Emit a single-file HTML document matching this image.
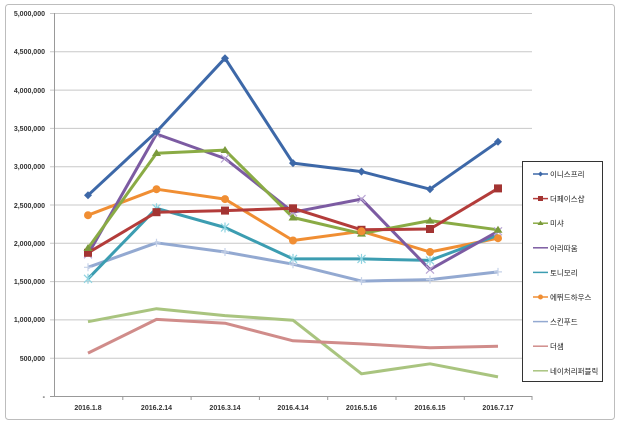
<!DOCTYPE html>
<html><head><meta charset="utf-8"><style>body{margin:0;background:#fff}svg{display:block}</style></head><body>
<svg width="620" height="428" viewBox="0 0 620 428" xmlns="http://www.w3.org/2000/svg" font-family="'Liberation Sans','Noto Sans CJK KR',sans-serif">
<rect x="5.5" y="4.5" width="609" height="415" rx="3" fill="#fff" stroke="#bdbdbd"/>
<g stroke="#c8c8c8" stroke-width="1">
<line x1="50" y1="13.5" x2="532" y2="13.5"/><line x1="50" y1="51.8" x2="532" y2="51.8"/><line x1="50" y1="90.1" x2="532" y2="90.1"/><line x1="50" y1="128.4" x2="532" y2="128.4"/><line x1="50" y1="166.7" x2="532" y2="166.7"/><line x1="50" y1="205" x2="532" y2="205"/><line x1="50" y1="243.3" x2="532" y2="243.3"/><line x1="50" y1="281.6" x2="532" y2="281.6"/><line x1="50" y1="319.9" x2="532" y2="319.9"/><line x1="50" y1="358.2" x2="532" y2="358.2"/>
</g>
<g stroke="#999" stroke-width="1">
<line x1="54.5" y1="13" x2="54.5" y2="396"/><line x1="50" y1="396.5" x2="532" y2="396.5"/>
<line x1="122.8" y1="396" x2="122.8" y2="400"/><line x1="191.1" y1="396" x2="191.1" y2="400"/><line x1="259.4" y1="396" x2="259.4" y2="400"/><line x1="327.7" y1="396" x2="327.7" y2="400"/><line x1="396" y1="396" x2="396" y2="400"/><line x1="464.3" y1="396" x2="464.3" y2="400"/><line x1="532" y1="396" x2="532" y2="400"/>
</g>
<g font-size="7" font-weight="bold" fill="#333" text-anchor="end">
<text x="45" y="16">5,000,000</text><text x="45" y="54">4,500,000</text><text x="45" y="93">4,000,000</text><text x="45" y="131">3,500,000</text><text x="45" y="169">3,000,000</text><text x="45" y="208">2,500,000</text><text x="45" y="246">2,000,000</text><text x="45" y="284">1,500,000</text><text x="45" y="322">1,000,000</text><text x="45" y="361">500,000</text><text x="45" y="399">-</text>
</g>
<g font-size="7" font-weight="bold" fill="#333" text-anchor="middle">
<text x="88" y="410">2016.1.8</text><text x="156.5" y="410">2016.2.14</text><text x="225" y="410">2016.3.14</text><text x="293" y="410">2016.4.14</text><text x="361.5" y="410">2016.5.16</text><text x="430" y="410">2016.6.15</text><text x="498" y="410">2016.7.17</text>
</g>
<g fill="none" stroke-width="3" stroke-linejoin="round">
<polyline stroke="#a9c47f" points="88,321.7 156.5,308.7 225,315.6 293,320.2 361.5,373.8 430,363.8 498,376.9"/>
<polyline stroke="#d08c8a" points="88,353.1 156.5,319.4 225,323.2 293,340.8 361.5,343.9 430,347.7 498,346.2"/>
<polyline stroke="#93a9d1" points="88,267.3 156.5,242.8 225,252 293,264.2 361.5,281.1 430,279.6 498,271.9"/>
<polyline stroke="#f08e33" points="88,215.2 156.5,189.2 225,199.1 293,240.5 361.5,231.3 430,252 498,238.2"/>
<polyline stroke="#3c9db1" points="88,278.8 156.5,208.3 225,227.5 293,258.9 361.5,258.9 430,260.4 498,235.1"/>
<polyline stroke="#7c5ba2" points="88,254.3 156.5,134 225,158.5 293,212.2 361.5,199.1 430,269.6 498,231.3"/>
<polyline stroke="#8aab45" points="88,248.2 156.5,153.2 225,150.1 293,217.5 361.5,233.6 430,220.6 498,229.8"/>
<polyline stroke="#b33c3a" points="88,252.8 156.5,212.2 225,210.6 293,208.3 361.5,229.8 430,229 498,188.4"/>
<polyline stroke="#3d68a8" points="88,195.3 156.5,131.7 225,58.2 293,163.1 361.5,171.6 430,189.2 498,141.7"/>
</g>
<g stroke-width="1.2" fill="none">
<path stroke="#b9a6d4" d="M84,250.3l8,8m0,-8l-8,8 M152.5,130l8,8m0,-8l-8,8 M221,154.5l8,8m0,-8l-8,8 M289,208.2l8,8m0,-8l-8,8 M357.5,195.1l8,8m0,-8l-8,8 M426,265.6l8,8m0,-8l-8,8 M494,227.3l8,8m0,-8l-8,8"/>
<path stroke="#8fd3e0" d="M84,274.8l8,8m0,-8l-8,8m4,-9v10 M152.5,204.3l8,8m0,-8l-8,8m4,-9v10 M221,223.5l8,8m0,-8l-8,8m4,-9v10 M289,254.9l8,8m0,-8l-8,8m4,-9v10 M357.5,254.9l8,8m0,-8l-8,8m4,-9v10 M426,256.4l8,8m0,-8l-8,8m4,-9v10"/>
<path stroke="#c6d2e8" d="M88,263.3v8M84,267.3h8 M156.5,238.8v8M152.5,242.8h8 M225,248v8M221,252h8 M293,260.2v8M289,264.2h8 M361.5,277.1v8M357.5,281.1h8 M430,275.6v8M426,279.6h8 M498,267.9v8M494,271.9h8"/>
</g>
<g>
<g fill="#3d68a8"><path d="M88,191.3l4,4l-4,4l-4,-4z M156.5,127.7l4,4l-4,4l-4,-4z M225,54.2l4,4l-4,4l-4,-4z M293,159.1l4,4l-4,4l-4,-4z M361.5,167.6l4,4l-4,4l-4,-4z M430,185.2l4,4l-4,4l-4,-4z M498,137.7l4,4l-4,4l-4,-4z"/></g>
<g fill="#a33432"><rect x="84" y="248.8" width="8" height="8"/><rect x="152.5" y="208.2" width="8" height="8"/><rect x="221" y="206.6" width="8" height="8"/><rect x="289" y="204.3" width="8" height="8"/><rect x="357.5" y="225.8" width="8" height="8"/><rect x="426" y="225" width="8" height="8"/><rect x="494" y="184.4" width="8" height="8"/></g>
<g fill="#7a9a3c"><path d="M88,244l4.5,7h-9z M156.5,149l4.5,7h-9z M225,146l4.5,7h-9z M293,213.5l4.5,7h-9z M361.5,229.6l4.5,7h-9z M430,216.6l4.5,7h-9z M498,225.8l4.5,7h-9z"/></g>
<g fill="#f08e33"><circle cx="88" cy="215.2" r="4"/><circle cx="156.5" cy="189.2" r="4"/><circle cx="225" cy="199.1" r="4"/><circle cx="293" cy="240.5" r="4"/><circle cx="361.5" cy="231.3" r="4"/><circle cx="430" cy="252" r="4"/><circle cx="498" cy="238.2" r="4"/></g>
</g>
<rect x="522.5" y="161.5" width="80" height="220" fill="#fff" stroke="#333"/>
<g stroke-width="1.5">
<line x1="533" y1="174" x2="548" y2="174" stroke="#3d68a8"/><line x1="533" y1="198.6" x2="548" y2="198.6" stroke="#b33c3a"/><line x1="533" y1="223.2" x2="548" y2="223.2" stroke="#8aab45"/><line x1="533" y1="247.8" x2="548" y2="247.8" stroke="#7c5ba2"/><line x1="533" y1="272.4" x2="548" y2="272.4" stroke="#3c9db1"/><line x1="533" y1="297" x2="548" y2="297" stroke="#f08e33"/><line x1="533" y1="321.6" x2="548" y2="321.6" stroke="#93a9d1"/><line x1="533" y1="346.2" x2="548" y2="346.2" stroke="#d08c8a"/><line x1="533" y1="370.8" x2="548" y2="370.8" stroke="#a9c47f"/>
</g>
<path d="M540.5,171.5l2.5,2.5l-2.5,2.5l-2.5,-2.5z" fill="#3d68a8"/><rect x="538" y="196" width="5" height="5" fill="#a33432"/><path d="M540.5,220.5l3,4.5h-6z" fill="#7a9a3c"/><circle cx="540.5" cy="297" r="2.5" fill="#f08e33"/>
<g font-size="7.5" fill="#222">
<text x="550" y="177">이니스프리</text><text x="550" y="201.6">더페이스샵</text><text x="550" y="226.2">미샤</text><text x="550" y="250.8">아리따움</text><text x="550" y="275.4">토니모리</text><text x="550" y="300">에뛰드하우스</text><text x="550" y="324.6">스킨푸드</text><text x="550" y="349.2">더샘</text><text x="550" y="373.8">네이처리퍼블릭</text>
</g>
</svg>
</body></html>
